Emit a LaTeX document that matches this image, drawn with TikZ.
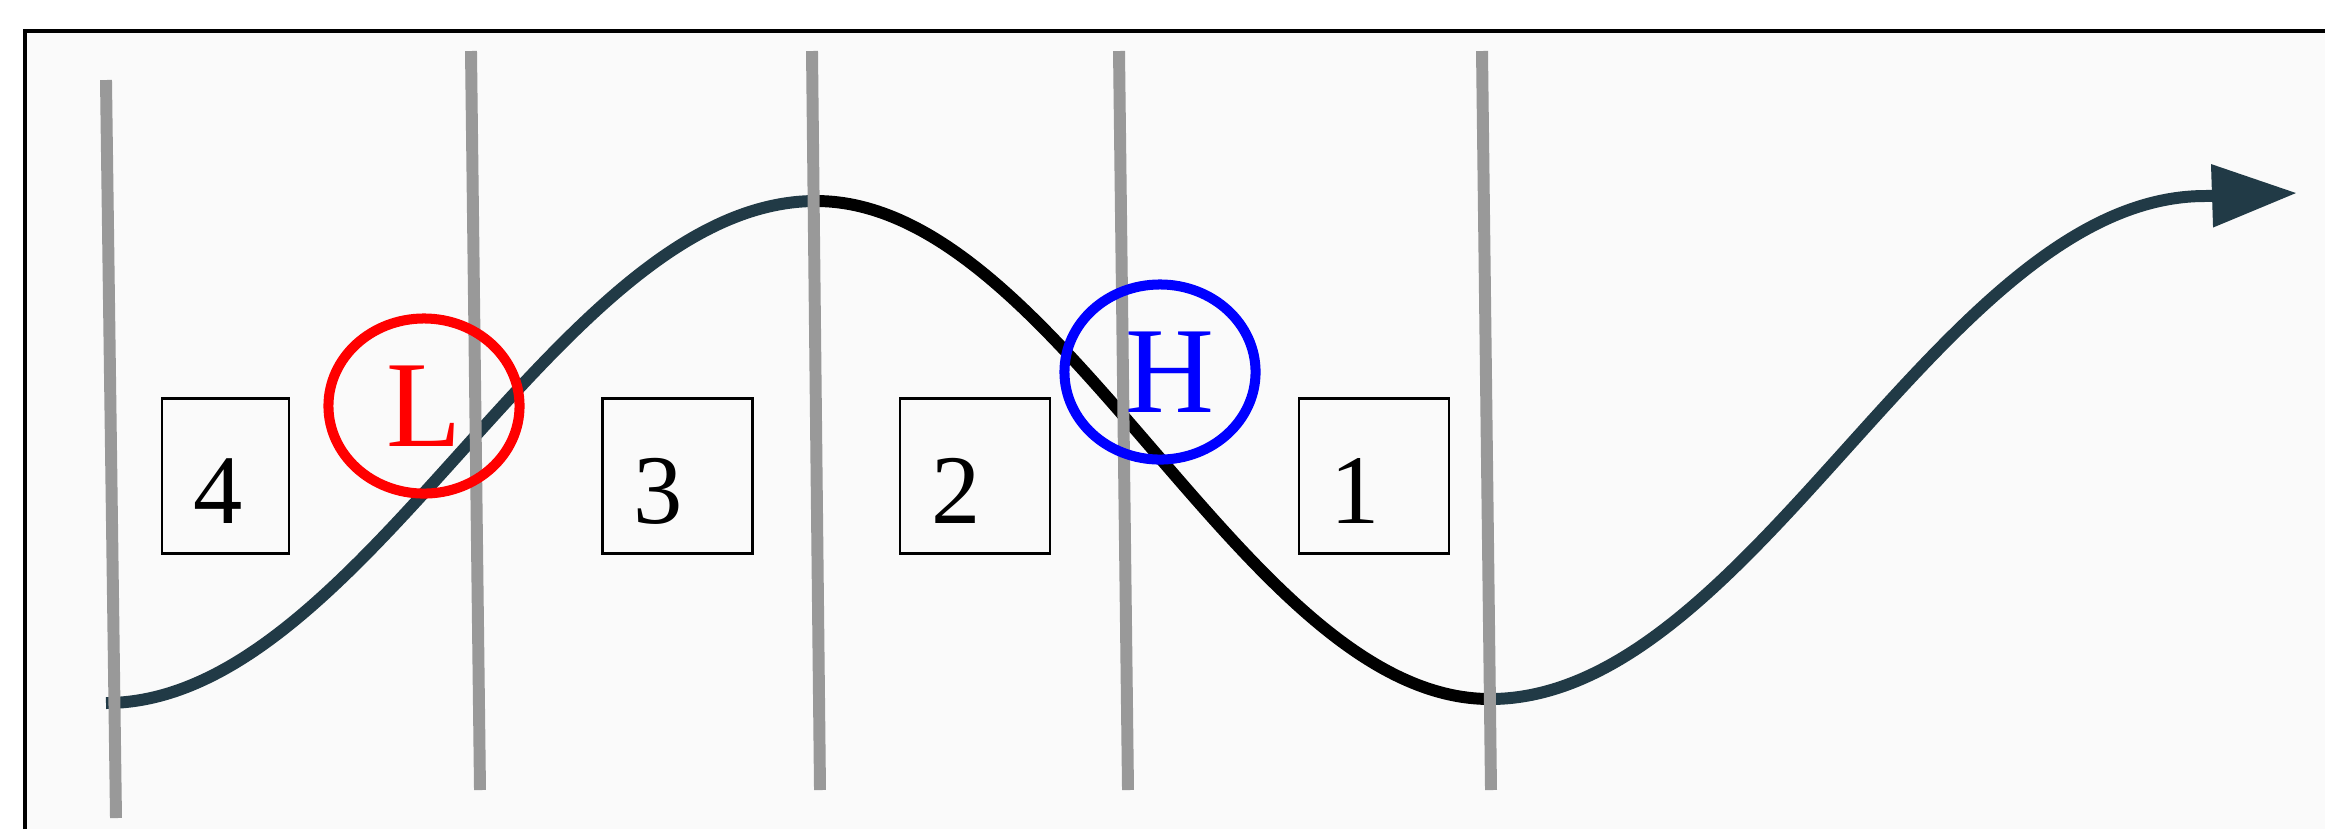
\documentclass[tikz,border=0pt]{standalone}
\usepackage{fontspec}
\setmainfont{Liberation Serif}
\usepackage{tikz}
\usetikzlibrary{arrows.meta, shapes.geometric}

\definecolor{wavecol}{HTML}{213A46}
\definecolor{polecol}{HTML}{999999}
\definecolor{panelcol}{HTML}{FAFAFA}

\begin{document}
\begin{tikzpicture}[x=0.01cm, y=-0.01cm,
    pole/.style={draw=polecol, line width=3.4pt},
    wave/.style={draw=wavecol, line width=3.4pt},
    zonebox/.style={draw, line width=0.8pt, minimum height=1.55cm,
      inner xsep=0.315cm, inner ysep=0pt, text width=#1, align=left,
      text height=0.94cm, text depth=0pt, font=\fontsize{28}{28}\selectfont},
    centre/.style={ellipse, line width=2.85pt, inner sep=0pt,
      minimum width=1.91cm, minimum height=1.75cm,
      font=\fontsize{35}{35}\selectfont}]
  \useasboundingbox (0,0) rectangle (2325,829);
  % Panel and frame
  \fill[panelcol] (25,31) rectangle (2325,829);
  \draw[line width=1pt] (25,829) |- (2325,31);
  % Wave
  \coordinate (w0) at (106,703);
  \coordinate (w1) at (816,201);
  \coordinate (w2) at (1490,699);
  \coordinate (w3) at (2205,196);
  \coordinate (tip) at (2297,193);
  \draw[wave] (w0) .. controls +(258,0) and +(-258,0) .. (w1);
  \draw[wave, draw=black] (w1) .. controls +(245,0) and +(-245,0) .. (w2);
  \draw[wave, -{Triangle[length=0.85cm, width=0.60cm]}]
    (w2) .. controls +(262,0) and +(-262,0) .. (w3) -- (tip);
  % Dividing lines
  \foreach \xt/\yt/\xb/\yb in {106/80/116/818, 471/51/480/790, 812/51/820/790,
      1119/51/1128/790, 1482/51/1491/790} {
    \draw[pole] (\xt,\yt) -- (\xb,\yb);
  }
  % Low and high centres
  \node[centre, draw=red, text=red] (low) at (424,406) {L};
  \node[centre, draw=blue, text=blue] (high) at (1160,372) {\hspace*{0.2cm}H};
  % Numbered zones
  \node[zonebox=0.64cm] (zone4) at (225.5,476) {4};
  \node[zonebox=0.87cm] (zone3) at (677.5,476) {3};
  \node[zonebox=0.87cm] (zone2) at (975,476) {2};
  \node[zonebox=0.87cm] (zone1) at (1374,476) {1};
\end{tikzpicture}
\end{document}
